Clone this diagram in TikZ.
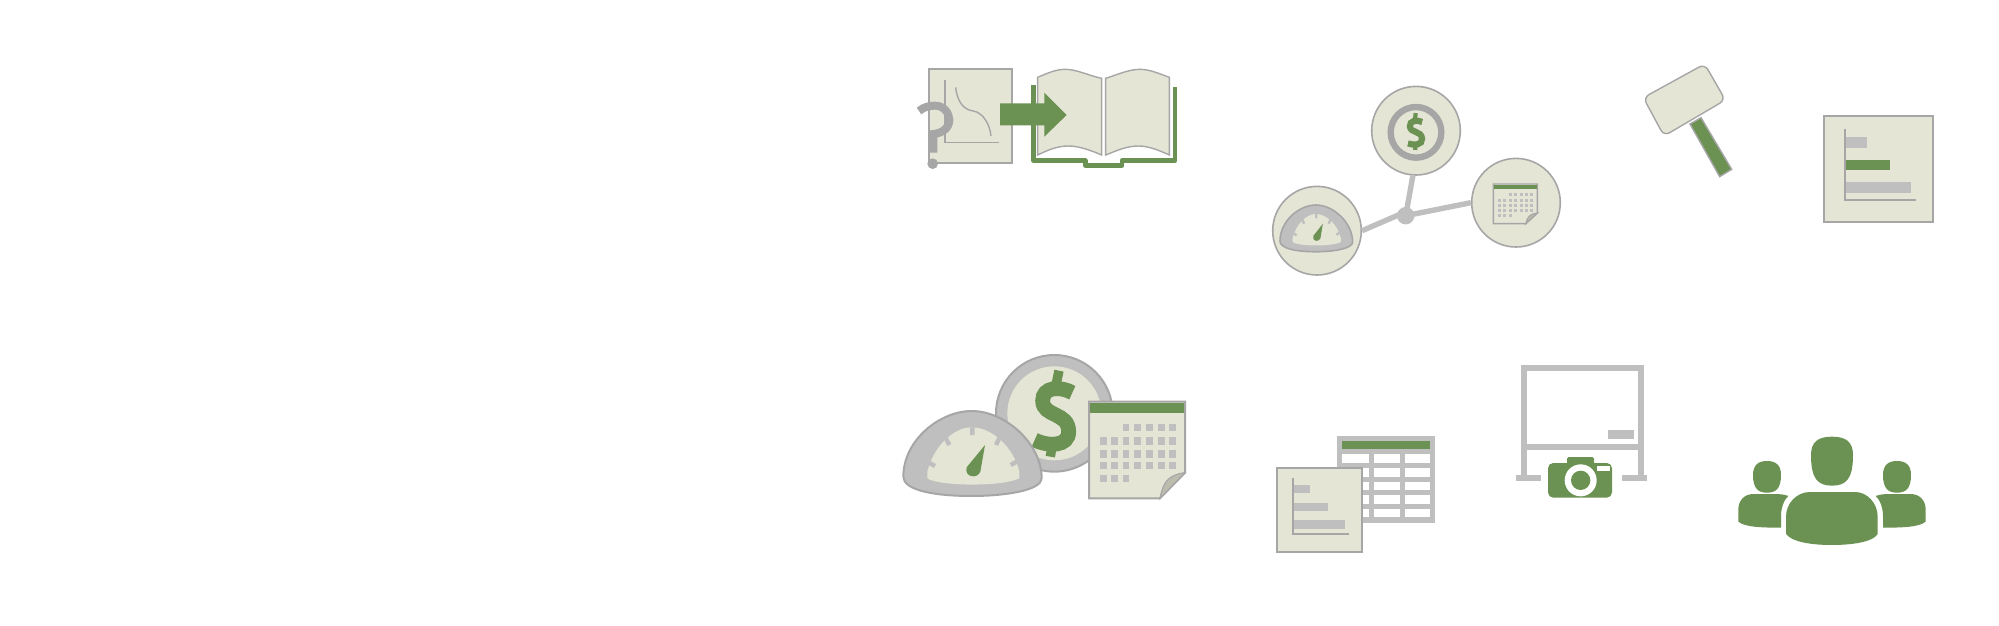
\documentclass[tikz,border=0pt]{standalone}
\definecolor{beige}{HTML}{E4E5D5}
\definecolor{edge}{HTML}{A6A6A6}
\definecolor{lgray}{HTML}{BFBFBF}
\definecolor{leaf}{HTML}{6B9252}
\definecolor{fold}{HTML}{BDBDAE}
\tikzset{
  paper/.style={fill=beige,draw=edge,line width=1pt},
  axisline/.style={draw=edge,line width=.7pt},
  graybar/.style={fill=lgray},
  greenbar/.style={fill=leaf},
  hubline/.style={draw=lgray,line width=2.7pt},
  disc/.style={circle,fill=beige,draw=edge,line width=.8pt,minimum size=44.3pt,inner sep=0pt},
  hubdot/.style={circle,fill=lgray,minimum size=8.7pt,inner sep=0pt},
  zoomed/.style={shift={#1},scale=0.33333},
}
\newcommand{\dollaricon}[2]{%
  \draw[leaf,line width=#1] (547,158) .. controls (510,138) and (458,140) .. (458,182) .. controls (458,232) and (536,215) .. (536,275) .. controls (536,320) and (475,320) .. (434,300);
  \draw[leaf,line width=#2] (507,92) -- (498,135) (487,315) -- (481,350);
}
\newcommand{\gaugeicon}[2]{%
  \path[fill=lgray,draw=edge,line width=#1] (40,410) .. controls (40,300) and (150,213) .. (245,213)
    .. controls (345,213) and (455,310) .. (455,415)
    .. controls (455,450) and (350,468) .. (245,468)
    .. controls (130,468) and (40,450) .. (40,410) -- cycle;
  \fill[beige] (112,395) .. controls (130,320) and (190,262) .. (245,262)
    .. controls (305,262) and (370,320) .. (388,395)
    -- (388,415) .. controls (340,440) and (150,440) .. (112,415) -- cycle;
  \draw[lgray,line width=#2] (247,262) -- (247,285) (165,290) -- (178,315) (330,290) -- (318,315) (115,367) -- (135,378) (385,362) -- (362,375);
  \fill[leaf] (285,315) -- (271,395) .. controls (262,418) and (222,412) .. (230,382) -- cycle;
}
\newcommand{\calendaricon}[1]{%
  \path[fill=beige,draw=edge,line width=#1] (597,185) -- (885,185) -- (885,398) -- (810,475) -- (597,475) -- cycle;
  \fill[leaf] (600,190) rectangle (882,220);
  \foreach \cy in {292,331,366} \foreach \cx in {630,663,698,733,769,804,838} \fill[lgray] (\cx,\cy) rectangle +(20,22);
  \foreach \cx in {698,733,769,804,838} \fill[lgray] (\cx,252) rectangle +(20,22);
  \foreach \cx in {630,663,698} \fill[lgray] (\cx,405) rectangle +(20,22);
  \path[fill=fold,draw=edge,line width=.6pt] (810,475) .. controls (820,425) and (835,405) .. (885,398) -- cycle;
}
\begin{document}
\begin{tikzpicture}[x=0.5pt,y=-0.5pt]
\useasboundingbox (0,0) rectangle (1999,626);
\fill[white] (0,0) rectangle (1999,626);

% page, question mark, book, arrow
\begin{scope}[zoomed={(900,50)}]
  \path[paper] (87,57) rectangle (336,338);
  \draw[axisline] (135,90) -- (135,278) -- (298,278);
  \draw[edge,line width=.7pt] (167,112) .. controls (172,160) and (195,180) .. (220,183) .. controls (250,188) and (270,225) .. (273,258);
  \draw[edge,line width=4pt] (57,183) .. controls (72,170) and (90,167) .. (105,167) .. controls (132,167) and (148,190) .. (148,210) .. controls (148,235) and (125,250) .. (100,252) -- (100,308);
  \fill[edge] (98,341) circle (16);
  \draw[leaf,line width=2.3pt,line join=round] (400,105) -- (400,332) -- (556,332) -- (556,347) -- (666,347) -- (666,332) -- (825,332) -- (825,110);
  \path[fill=beige,draw=edge,line width=.7pt] (413,82) .. controls (445,68) and (470,58) .. (495,58) .. controls (530,58) and (570,78) .. (605,85) -- (605,315) .. controls (570,300) and (535,288) .. (505,288) .. controls (470,288) and (440,302) .. (413,315) -- cycle;
  \path[fill=beige,draw=edge,line width=.7pt] (617,85) .. controls (650,75) and (685,58) .. (720,58) .. controls (750,58) and (780,72) .. (808,82) -- (808,315) .. controls (775,300) and (745,288) .. (715,288) .. controls (680,288) and (650,302) .. (617,315) -- cycle;
  \fill[leaf] (300,160) -- (433,160) -- (433,128) -- (500,195) -- (433,260) -- (433,226) -- (300,226) -- cycle;
\end{scope}

% hub with three discs
\node[hubdot] (hub) at (1405.7,215.7) {};
\node[disc] (dollardisc) at (1416,130.7) {};
\node[disc] (gaugedisc) at (1317,230.7) {};
\node[disc] (caldisc) at (1516,202.7) {};
\draw[hubline] (hub.center) -- (dollardisc.266);
\draw[hubline] (hub.center) ++(-2,-3) -- (gaugedisc.east);
\draw[hubline] (hub.center) -- (caldisc.west);
\begin{scope}[zoomed={(1260,70)}]
  \draw[edge,line width=3.2pt] (468,187) circle (76);
  \begin{scope}[shift={(466,185)},scale=.426,rotate=5,shift={(-493,-222)}]\dollaricon{3.1pt}{2.1pt}\end{scope}
  \begin{scope}[shift={(39,287.85)},xscale=.525,yscale=.55]\gaugeicon{.8pt}{1.2pt}\end{scope}
  \begin{scope}[shift={(426.6,266.2)},xscale=.458,yscale=.41]\calendaricon{.7pt}\end{scope}
\end{scope}

% hammer and bar chart
\begin{scope}[zoomed={(1630,50)}]
  \path[fill=leaf,draw=edge,line width=.7pt] (180,222) -- (213,203) -- (305,358) -- (269,380) -- cycle;
  \path[fill=beige,draw=edge,line width=.7pt,rounded corners=3.2pt] (40,143) -- (224,42) -- (286,150) -- (102,258) -- cycle;
  \path[paper] (582,197) rectangle (910,516);
  \fill[graybar] (645,262) rectangle (710,293);
  \fill[greenbar] (645,330) rectangle (780,359);
  \fill[graybar] (645,397) rectangle (843,428);
  \draw[axisline] (645,238) -- (645,450) -- (857,450);
\end{scope}

% large coin, gauge, calendar
\begin{scope}[zoomed={(890,340)}]
  \path[fill=lgray,draw=edge,line width=1pt] (493,220) circle (175);
  \fill[beige] (493,220) circle (141);
  \dollaricon{7.4pt}{4.7pt}
  \gaugeicon{1pt}{2.2pt}
  \calendaricon{1pt}
\end{scope}

% table and chart
\begin{scope}[zoomed={(1260,420)}]
  \fill[lgray] (231,48) rectangle (525,308);
  \fill[leaf] (246,63) rectangle (510,87);
  \foreach \ya/\yb in {102/129,144/171,186/210,225/252,267/291} \foreach \xa/\xb in {246/327,342/420,435/510} \fill[white] (\xa,\ya) rectangle (\xb,\yb);
  \path[paper] (51,144) rectangle (306,396);
  \fill[graybar] (99,195) rectangle (150,219);
  \fill[graybar] (99,249) rectangle (204,273);
  \fill[graybar] (99,300) rectangle (255,327);
  \draw[axisline] (99,174) -- (99,342) -- (267,342);
\end{scope}

% board and camera
\begin{scope}[zoomed={(1500,350)}]
  \draw[lgray,line width=3pt] (72,378) -- (72,54) -- (423,54) -- (423,378);
  \draw[lgray,line width=3pt] (72,291) -- (423,291);
  \fill[lgray] (48,375) rectangle (124,393);
  \fill[lgray] (366,375) rectangle (442,393);
  \fill[lgray] (325,240) rectangle (402,267);
  \fill[leaf,rounded corners=.8pt] (201,321) rectangle (282,345);
  \fill[leaf,rounded corners=2.6pt] (144,339) rectangle (336,443);
  \fill[white] (242,391) circle (48);
  \fill[leaf] (242,391) circle (29);
  \fill[white] (290,348) rectangle (330,363);
\end{scope}

% people
\begin{scope}[zoomed={(1720,420)}]
  \foreach \mirror/\off in {1/0,-1/672} {
    \begin{scope}[shift={(\off,0)},xscale=\mirror]
      \fill[leaf] (99,165) .. controls (99,135) and (115,123) .. (141,123) .. controls (167,123) and (183,135) .. (183,165) .. controls (183,205) and (168,218) .. (141,218) .. controls (114,218) and (99,205) .. (99,165) -- cycle;
      \fill[leaf] (55,300) -- (55,268) .. controls (55,240) and (75,222) .. (100,222) -- (165,222) .. controls (180,222) and (195,224) .. (205,228) .. controls (192,240) and (183,262) .. (183,290) -- (183,323) .. controls (130,323) and (75,322) .. (55,305) -- cycle;
    \end{scope}
  }
  \fill[leaf] (273,105) .. controls (273,65) and (295,50) .. (336,50) .. controls (377,50) and (399,65) .. (399,105) .. controls (399,175) and (380,197) .. (336,197) .. controls (292,197) and (273,175) .. (273,105) -- cycle;
  \fill[leaf] (198,342) -- (198,290) .. controls (198,250) and (230,216) .. (270,216) -- (405,216) .. controls (442,216) and (473,250) .. (473,290) -- (473,342) .. controls (460,365) and (400,375) .. (336,375) .. controls (270,375) and (215,365) .. (198,342) -- cycle;
\end{scope}
\end{tikzpicture}
\end{document}
